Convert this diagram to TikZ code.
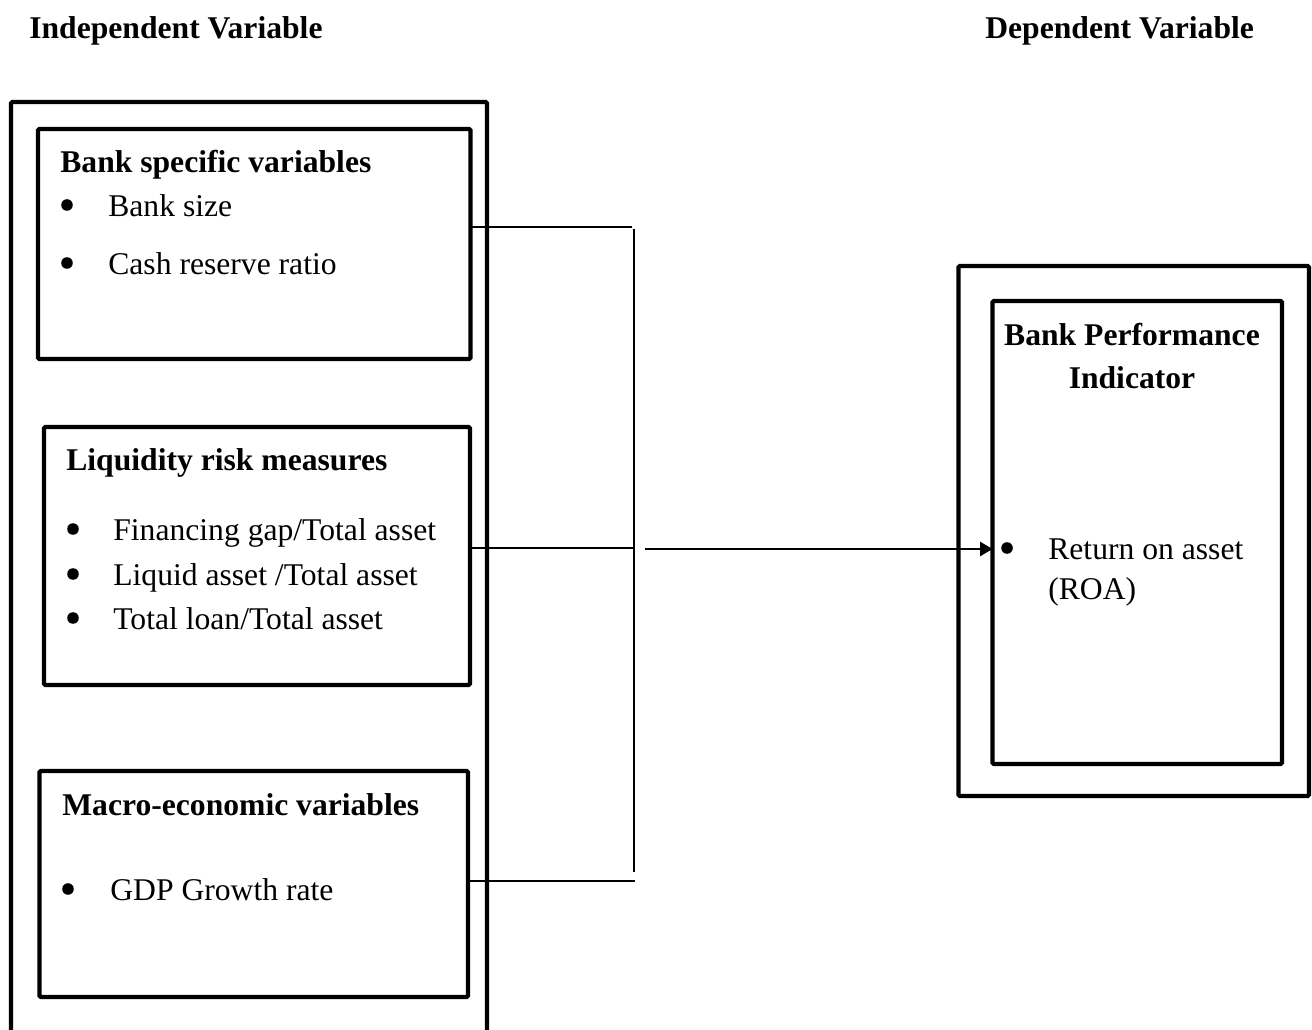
\documentclass[tikz,border=0pt]{standalone}
\usepackage{fontspec}
\setmainfont{Liberation Serif}
\usetikzlibrary{fit, arrows.meta}

\begin{document}
\begin{tikzpicture}[x=0.02cm, y=-0.02cm,
    frame/.style={draw, line width=2.45pt, inner sep=0pt, outer sep=0pt, rounded corners=0.8pt},
    txt/.style={inner sep=0pt, anchor=base west, yshift=-1.2pt, font=\fontsize{18}{22}\selectfont},
    head/.style={txt, font=\fontsize{18}{22}\selectfont\bfseries},
    dot/.style={circle, fill, inner sep=0pt, minimum size=6.6pt},
    link/.style={line width=1.1pt},
    bar/.style={line width=0.9pt}]
  \useasboundingbox (0,0) rectangle (1312,1030);
  \clip (0,0) rectangle (1312,1030);

  % titles
  \node[head] (indep) at (29,36)  {Independent Variable};
  \node[head] (dep)   at (985,36) {Dependent Variable};

  % left side
  \node[frame, fit={(11,102) (487,1050)}] (indepbox) {};
  \node[frame, fit={(38,129) (470.5,359)}] (bank) {};
  \node[frame, fit={(44,427) (470,685)}] (liq) {};
  \node[frame, fit={(39.5,771) (468,997)}] (macro) {};

  \node[head] (bankhead) at (60,170) {Bank specific variables};
  \node[dot] (b1) at (67,205) {};
  \node[txt] (banksize) at (108,214) {Bank size};
  \node[dot] (b2) at (67,263) {};
  \node[txt] (cash) at (108,272) {Cash reserve ratio};

  \node[head] (liqhead) at (66,468) {Liquidity risk measures};
  \node[dot] (l1) at (73,529) {};
  \node[txt] (fingap) at (113,538) {Financing gap/Total asset};
  \node[dot] (l2) at (73,574) {};
  \node[txt] (liqasset) at (113,583) {Liquid asset /Total asset};
  \node[dot] (l3) at (73,618) {};
  \node[txt] (loan) at (113,627) {Total loan/Total asset};

  \node[head] (macrohead) at (62,813) {Macro-economic variables};
  \node[dot] (m1) at (68,889) {};
  \node[txt] (gdp) at (110,898) {GDP Growth rate};

  % right side
  \node[frame, fit={(958.5,266) (1309,796)}] (depbox) {};
  \node[frame, fit={(992.5,301) (1282,764)}] (perf) {};
  \node[head, anchor=base] (perfhead) at (1132,343) {Bank Performance};
  \node[head, anchor=base] (perfhead2) at (1132,386) {Indicator};
  \node[dot] (r1) at (1007,548) {};
  \node[txt] (roa) at (1048,557) {Return on asset};
  \node[txt] (roa2) at (1048,597) {(ROA)};

  % connectors
  \coordinate (j1) at (632,227);
  \coordinate (j2) at (634,548);
  \coordinate (j3) at (635,881);
  \coordinate (bartop) at (634,229);
  \coordinate (barbot) at (634,872);
  \coordinate (a0) at (645,549);
  \draw[link] (bank.east |- j1) -- (j1);
  \draw[link] (liq.east |- j2) -- (j2);
  \draw[link] (macro.east |- j3) -- (j3);
  \draw[bar] (bartop) -- (barbot);
  \draw[link, -{Triangle[length=7pt, width=8pt]}] (a0) -- (perf.west |- a0);
\end{tikzpicture}
\end{document}
